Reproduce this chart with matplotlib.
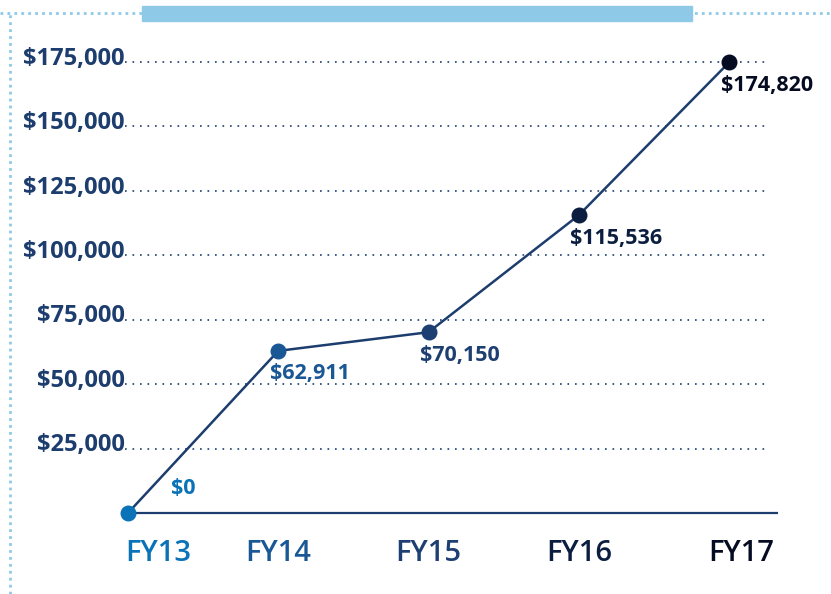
import matplotlib
matplotlib.use('AGG')

import matplotlib.pyplot as plt
from matplotlib.lines import Line2D
from matplotlib.patches import Rectangle

years = ['FY13', 'FY14', 'FY15', 'FY16', 'FY17']
amounts = [0, 62911, 70150, 115536, 174820]
amount_labels = ['$0', '$62,911', '$70,150', '$115,536', '$174,820']
y_ticks = [25000, 50000, 75000, 100000, 125000, 150000, 175000]
y_tick_labels = ['$25,000', '$50,000', '$75,000', '$100,000', '$125,000', '$150,000', '$175,000']

point_colors = ['#0a72b7', '#1a5795', '#1d3f72', '#0c1e40', '#050c22']
navy = '#1c3d6e'

plt.rcParams['font.family'] = ['Open Sans', 'DejaVu Sans']

W, H = 831, 594
fig = plt.figure(figsize=(W / 100, H / 100), dpi=100)

# axes placed in pixel terms: x 128..778, y 40..513
ax = fig.add_axes([128 / W, 1 - 513 / H, 650 / W, 473 / H])
px_per_unit = (729 - 128) / 4
ax.set_xlim(0, 650 / px_per_unit)
ax.set_ylim(0, 175000 * 473 / (513 - 62))
ax.axis('off')

# dotted grid lines
for v, lab in zip(y_ticks, y_tick_labels):
    ax.hlines(v, -0.02, 4.27, colors=navy, linestyles=(0, (1, 3.5)), lw=1.2, clip_on=False)
    ax.annotate(lab, (-0.02, v), xytext=(0, -2), textcoords='offset points',
                ha='right', va='baseline', fontsize=17, fontweight='bold',
                color=navy, annotation_clip=False)

# baseline axis
ax.hlines(0, 0, 650 / px_per_unit, colors=navy, lw=1.6, clip_on=False)

x = list(range(len(years)))
ax.plot(x, amounts, color=navy, lw=1.8, clip_on=False, zorder=3)
for i, v in enumerate(amounts):
    ax.scatter(i, v, s=110, color=point_colors[i], zorder=4, clip_on=False)
    if i == 0:
        ax.annotate(amount_labels[i], (i, v), xytext=(31, 10), textcoords='offset points',
                    ha='left', va='bottom', fontsize=15.5, fontweight='bold', color=point_colors[i])
    else:
        ax.annotate(amount_labels[i], (i, v), xytext=(-6, -9), textcoords='offset points',
                    ha='left', va='top', fontsize=15.5, fontweight='bold', color=point_colors[i])
    ax.annotate(years[i], (i, 0), xytext=(22 if i == 0 else (9 if i == 4 else 0), -19),
                textcoords='offset points', ha='center', va='top', fontsize=21,
                fontweight='semibold', color=point_colors[i], annotation_clip=False)

# frame decorations: dotted light-blue border and title bar
lb = '#8ecae8'
fig.add_artist(Line2D([0, 1], [1 - 13 / H, 1 - 13 / H], color=lb, lw=2,
                      linestyle=(0, (1, 1.5)), transform=fig.transFigure))
fig.add_artist(Line2D([10 / W, 10 / W], [0, 1 - 13 / H], color=lb, lw=2,
                      linestyle=(0, (1, 1.5)), transform=fig.transFigure))
fig.add_artist(Rectangle((142 / W, 1 - 21 / H), 550 / W, 15 / H, color=lb,
                         transform=fig.transFigure))

fig.savefig('out.png', dpi=100)
